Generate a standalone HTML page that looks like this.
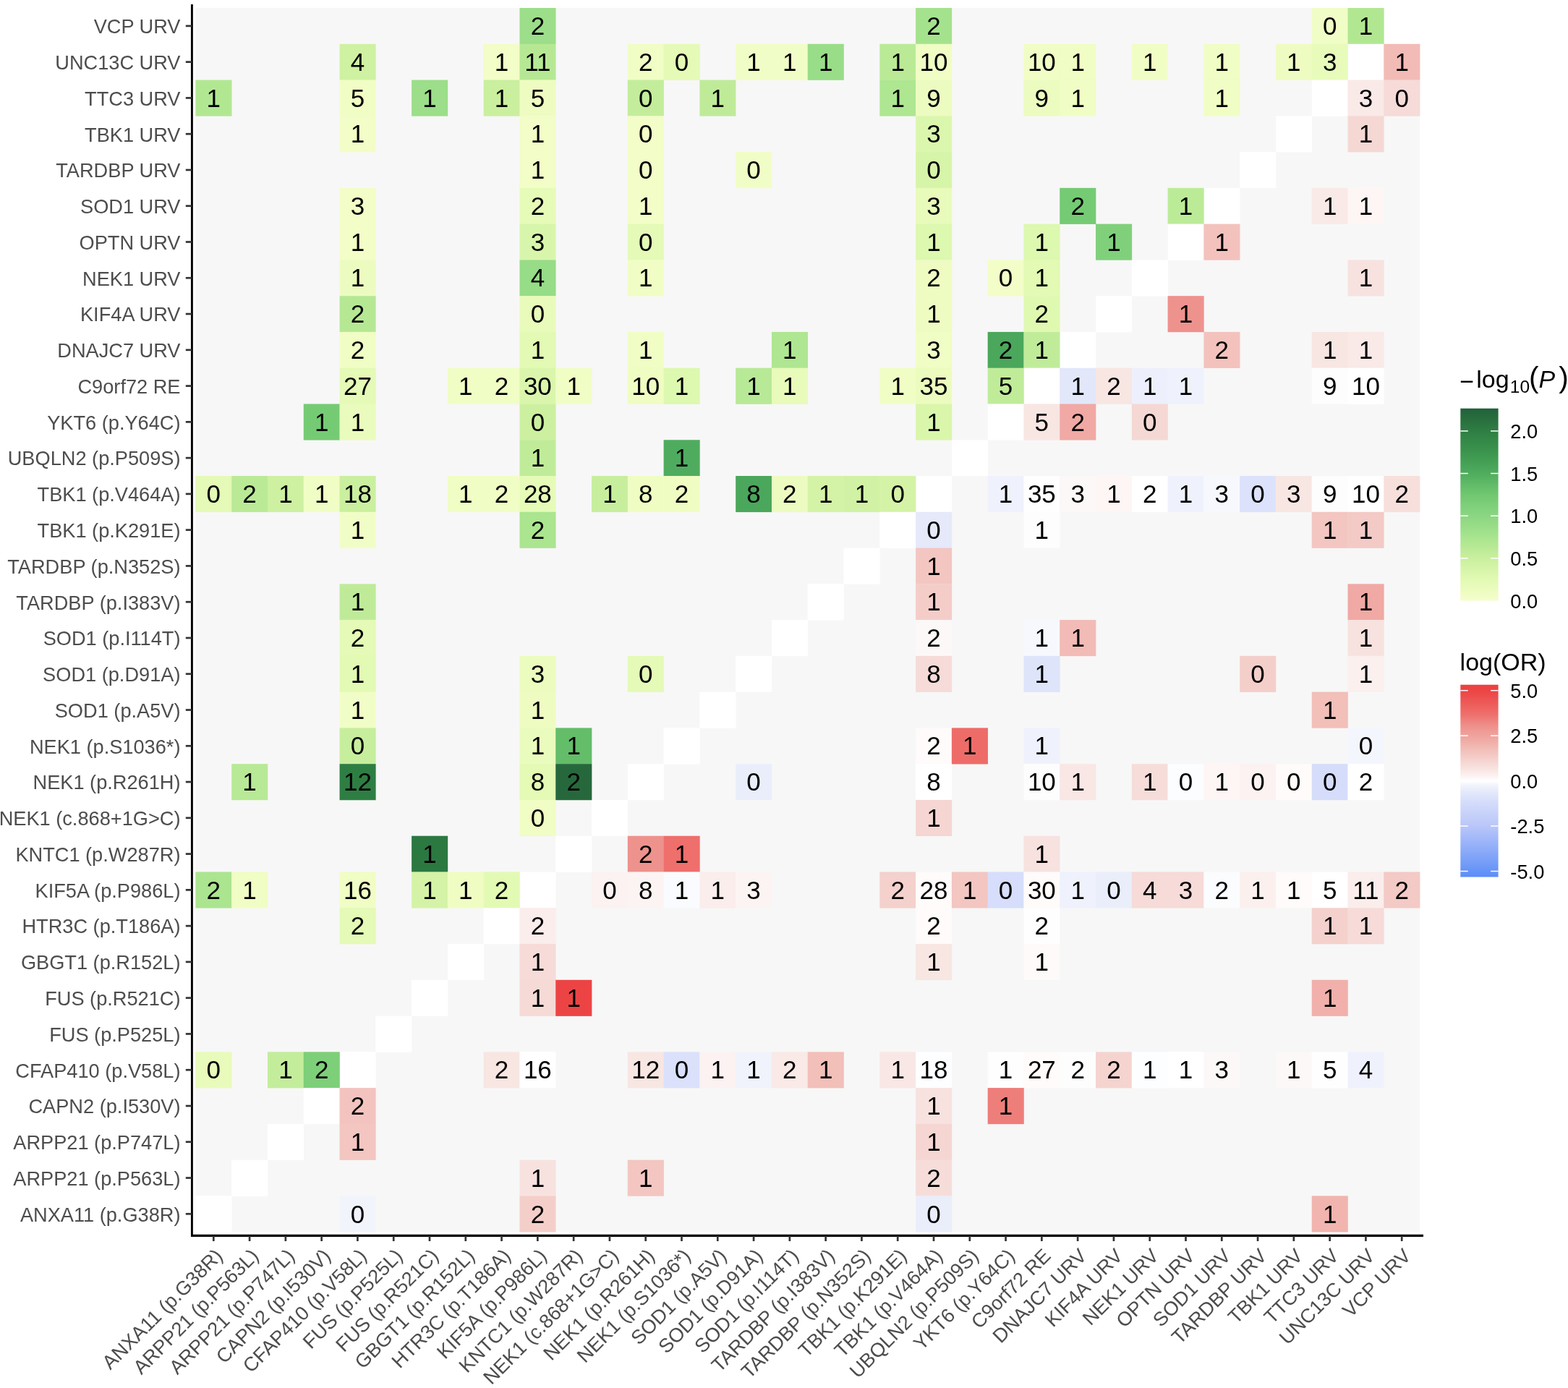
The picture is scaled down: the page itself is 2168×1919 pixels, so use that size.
<!DOCTYPE html>
<html><head><meta charset="utf-8"><title>Heatmap</title>
<style>
html,body{margin:0;padding:0;background:#fff;}
svg{display:block;}
text{font-family:"Liberation Sans",Arial,sans-serif;}
.n{font-size:35.00px;fill:#000;text-anchor:middle;}
.yl{font-size:27.20px;fill:#4D4D4D;text-anchor:end;}
.xl{font-size:27.20px;fill:#4D4D4D;text-anchor:end;}
.lg{font-size:27.3px;fill:#000;}
</style></head><body>
<svg width="2168" height="1919" viewBox="0 0 2168 1919">
<rect x="0" y="0" width="2168" height="1919" fill="#fff"/>
<rect x="270.40" y="11.00" width="1692.69" height="1692.18" fill="#F7F7F7"/>
<rect x="1913.30" y="11.00" width="50.08" height="50.07" fill="#FFFFFF"/>
<rect x="718.46" y="11.00" width="50.08" height="50.07" fill="#9CDE89"/>
<rect x="1266.10" y="11.00" width="50.08" height="50.07" fill="#A5E28D"/>
<rect x="1813.73" y="11.00" width="50.08" height="50.07" fill="#F1FDC6"/>
<rect x="1863.52" y="11.00" width="50.08" height="50.07" fill="#B2E792"/>
<rect x="1863.52" y="60.77" width="50.08" height="50.07" fill="#FFFFFF"/>
<rect x="469.54" y="60.77" width="50.08" height="50.07" fill="#CFF1A2"/>
<rect x="668.68" y="60.77" width="50.08" height="50.07" fill="#F2FDC7"/>
<rect x="718.46" y="60.77" width="50.08" height="50.07" fill="#B6E894"/>
<rect x="867.82" y="60.77" width="50.08" height="50.07" fill="#F0FDC4"/>
<rect x="917.60" y="60.77" width="50.08" height="50.07" fill="#E4FAB6"/>
<rect x="1017.17" y="60.77" width="50.08" height="50.07" fill="#F1FDC6"/>
<rect x="1066.96" y="60.77" width="50.08" height="50.07" fill="#F1FDC6"/>
<rect x="1116.74" y="60.77" width="50.08" height="50.07" fill="#99DD88"/>
<rect x="1216.32" y="60.77" width="50.08" height="50.07" fill="#BAEA96"/>
<rect x="1266.10" y="60.77" width="50.08" height="50.07" fill="#F0FDC5"/>
<rect x="1415.45" y="60.77" width="50.08" height="50.07" fill="#F0FDC5"/>
<rect x="1465.24" y="60.77" width="50.08" height="50.07" fill="#F0FDC5"/>
<rect x="1564.81" y="60.77" width="50.08" height="50.07" fill="#F0FDC5"/>
<rect x="1664.38" y="60.77" width="50.08" height="50.07" fill="#F0FDC5"/>
<rect x="1763.95" y="60.77" width="50.08" height="50.07" fill="#EEFCC2"/>
<rect x="1813.73" y="60.77" width="50.08" height="50.07" fill="#E8FBBB"/>
<rect x="1913.30" y="60.77" width="50.08" height="50.07" fill="#F2BBB6"/>
<rect x="1813.73" y="110.54" width="50.08" height="50.07" fill="#FFFFFF"/>
<rect x="270.40" y="110.54" width="50.08" height="50.07" fill="#B2E792"/>
<rect x="469.54" y="110.54" width="50.08" height="50.07" fill="#F0FDC4"/>
<rect x="569.11" y="110.54" width="50.08" height="50.07" fill="#9CDE89"/>
<rect x="668.68" y="110.54" width="50.08" height="50.07" fill="#CAEF9E"/>
<rect x="718.46" y="110.54" width="50.08" height="50.07" fill="#EEFCC2"/>
<rect x="867.82" y="110.54" width="50.08" height="50.07" fill="#C3ED9B"/>
<rect x="967.39" y="110.54" width="50.08" height="50.07" fill="#BFEB99"/>
<rect x="1216.32" y="110.54" width="50.08" height="50.07" fill="#AFE691"/>
<rect x="1266.10" y="110.54" width="50.08" height="50.07" fill="#ECFCC0"/>
<rect x="1415.45" y="110.54" width="50.08" height="50.07" fill="#ECFCC0"/>
<rect x="1465.24" y="110.54" width="50.08" height="50.07" fill="#F0FDC4"/>
<rect x="1664.38" y="110.54" width="50.08" height="50.07" fill="#F0FDC4"/>
<rect x="1863.52" y="110.54" width="50.08" height="50.07" fill="#F9E9E7"/>
<rect x="1913.30" y="110.54" width="50.08" height="50.07" fill="#F6DBD8"/>
<rect x="1763.95" y="160.31" width="50.08" height="50.07" fill="#FFFFFF"/>
<rect x="469.54" y="160.31" width="50.08" height="50.07" fill="#F2FDC7"/>
<rect x="718.46" y="160.31" width="50.08" height="50.07" fill="#F2FDC7"/>
<rect x="867.82" y="160.31" width="50.08" height="50.07" fill="#F2FDC7"/>
<rect x="1266.10" y="160.31" width="50.08" height="50.07" fill="#DBF7AD"/>
<rect x="1863.52" y="160.31" width="50.08" height="50.07" fill="#F5D8D4"/>
<rect x="1714.16" y="210.08" width="50.08" height="50.07" fill="#FFFFFF"/>
<rect x="718.46" y="210.08" width="50.08" height="50.07" fill="#F2FDC7"/>
<rect x="867.82" y="210.08" width="50.08" height="50.07" fill="#F2FDC7"/>
<rect x="1017.17" y="210.08" width="50.08" height="50.07" fill="#F1FDC6"/>
<rect x="1266.10" y="210.08" width="50.08" height="50.07" fill="#D6F5A9"/>
<rect x="1664.38" y="259.85" width="50.08" height="50.07" fill="#FFFFFF"/>
<rect x="469.54" y="259.85" width="50.08" height="50.07" fill="#F2FDC7"/>
<rect x="718.46" y="259.85" width="50.08" height="50.07" fill="#E6FBB8"/>
<rect x="867.82" y="259.85" width="50.08" height="50.07" fill="#F2FDC7"/>
<rect x="1266.10" y="259.85" width="50.08" height="50.07" fill="#E8FBBA"/>
<rect x="1465.24" y="259.85" width="50.08" height="50.07" fill="#75CB74"/>
<rect x="1614.59" y="259.85" width="50.08" height="50.07" fill="#BCEB98"/>
<rect x="1813.73" y="259.85" width="50.08" height="50.07" fill="#F9E9E7"/>
<rect x="1863.52" y="259.85" width="50.08" height="50.07" fill="#FDF6F5"/>
<rect x="1614.59" y="309.62" width="50.08" height="50.07" fill="#FFFFFF"/>
<rect x="469.54" y="309.62" width="50.08" height="50.07" fill="#F2FDC7"/>
<rect x="718.46" y="309.62" width="50.08" height="50.07" fill="#D8F6AB"/>
<rect x="867.82" y="309.62" width="50.08" height="50.07" fill="#E4FAB6"/>
<rect x="1266.10" y="309.62" width="50.08" height="50.07" fill="#DDF8AF"/>
<rect x="1415.45" y="309.62" width="50.08" height="50.07" fill="#DDF8AF"/>
<rect x="1515.03" y="309.62" width="50.08" height="50.07" fill="#80D07B"/>
<rect x="1664.38" y="309.62" width="50.08" height="50.07" fill="#F3C2BD"/>
<rect x="1564.81" y="359.39" width="50.08" height="50.07" fill="#FFFFFF"/>
<rect x="469.54" y="359.39" width="50.08" height="50.07" fill="#ECFCC0"/>
<rect x="718.46" y="359.39" width="50.08" height="50.07" fill="#97DC87"/>
<rect x="867.82" y="359.39" width="50.08" height="50.07" fill="#F0FDC4"/>
<rect x="1266.10" y="359.39" width="50.08" height="50.07" fill="#EEFCC2"/>
<rect x="1365.67" y="359.39" width="50.08" height="50.07" fill="#F3FDC8"/>
<rect x="1415.45" y="359.39" width="50.08" height="50.07" fill="#E2FAB3"/>
<rect x="1863.52" y="359.39" width="50.08" height="50.07" fill="#F7E2DF"/>
<rect x="1515.03" y="409.16" width="50.08" height="50.07" fill="#FFFFFF"/>
<rect x="469.54" y="409.16" width="50.08" height="50.07" fill="#B6E894"/>
<rect x="718.46" y="409.16" width="50.08" height="50.07" fill="#E8FBBA"/>
<rect x="1266.10" y="409.16" width="50.08" height="50.07" fill="#EEFCC2"/>
<rect x="1415.45" y="409.16" width="50.08" height="50.07" fill="#E0F9B1"/>
<rect x="1614.59" y="409.16" width="50.08" height="50.07" fill="#EE928D"/>
<rect x="1465.24" y="458.93" width="50.08" height="50.07" fill="#FFFFFF"/>
<rect x="469.54" y="458.93" width="50.08" height="50.07" fill="#F0FDC4"/>
<rect x="718.46" y="458.93" width="50.08" height="50.07" fill="#E2FAB3"/>
<rect x="867.82" y="458.93" width="50.08" height="50.07" fill="#F0FDC4"/>
<rect x="1066.96" y="458.93" width="50.08" height="50.07" fill="#AFE691"/>
<rect x="1266.10" y="458.93" width="50.08" height="50.07" fill="#F0FDC4"/>
<rect x="1365.67" y="458.93" width="50.08" height="50.07" fill="#4BA75B"/>
<rect x="1415.45" y="458.93" width="50.08" height="50.07" fill="#C0EC9A"/>
<rect x="1664.38" y="458.93" width="50.08" height="50.07" fill="#F3C2BD"/>
<rect x="1813.73" y="458.93" width="50.08" height="50.07" fill="#F8E6E3"/>
<rect x="1863.52" y="458.93" width="50.08" height="50.07" fill="#F9E9E7"/>
<rect x="1415.45" y="508.70" width="50.08" height="50.07" fill="#FFFFFF"/>
<rect x="469.54" y="508.70" width="50.08" height="50.07" fill="#E4FAB6"/>
<rect x="618.89" y="508.70" width="50.08" height="50.07" fill="#F0FDC4"/>
<rect x="668.68" y="508.70" width="50.08" height="50.07" fill="#F0FDC4"/>
<rect x="718.46" y="508.70" width="50.08" height="50.07" fill="#DAF6AC"/>
<rect x="768.25" y="508.70" width="50.08" height="50.07" fill="#F0FDC4"/>
<rect x="867.82" y="508.70" width="50.08" height="50.07" fill="#EFFDC3"/>
<rect x="917.60" y="508.70" width="50.08" height="50.07" fill="#DDF8AF"/>
<rect x="1017.17" y="508.70" width="50.08" height="50.07" fill="#B8E996"/>
<rect x="1066.96" y="508.70" width="50.08" height="50.07" fill="#E8FBBA"/>
<rect x="1216.32" y="508.70" width="50.08" height="50.07" fill="#F0FDC4"/>
<rect x="1266.10" y="508.70" width="50.08" height="50.07" fill="#EBFCBE"/>
<rect x="1365.67" y="508.70" width="50.08" height="50.07" fill="#C0EC9A"/>
<rect x="1465.24" y="508.70" width="50.08" height="50.07" fill="#E2E7FA"/>
<rect x="1515.03" y="508.70" width="50.08" height="50.07" fill="#F8E6E3"/>
<rect x="1564.81" y="508.70" width="50.08" height="50.07" fill="#EDF0FC"/>
<rect x="1614.59" y="508.70" width="50.08" height="50.07" fill="#EFF2FC"/>
<rect x="1813.73" y="508.70" width="50.08" height="50.07" fill="#FEFDFD"/>
<rect x="1863.52" y="508.70" width="50.08" height="50.07" fill="#FFFFFF"/>
<rect x="1365.67" y="558.47" width="50.08" height="50.07" fill="#FFFFFF"/>
<rect x="419.75" y="558.47" width="50.08" height="50.07" fill="#75CB74"/>
<rect x="469.54" y="558.47" width="50.08" height="50.07" fill="#EAFCBD"/>
<rect x="718.46" y="558.47" width="50.08" height="50.07" fill="#CCF0A0"/>
<rect x="1266.10" y="558.47" width="50.08" height="50.07" fill="#D9F6AB"/>
<rect x="1415.45" y="558.47" width="50.08" height="50.07" fill="#F8E6E3"/>
<rect x="1465.24" y="558.47" width="50.08" height="50.07" fill="#F0A9A4"/>
<rect x="1564.81" y="558.47" width="50.08" height="50.07" fill="#F5D8D4"/>
<rect x="1315.88" y="608.24" width="50.08" height="50.07" fill="#FFFFFF"/>
<rect x="718.46" y="608.24" width="50.08" height="50.07" fill="#C0EC9A"/>
<rect x="917.60" y="608.24" width="50.08" height="50.07" fill="#4FAC5E"/>
<rect x="1266.10" y="658.01" width="50.08" height="50.07" fill="#FFFFFF"/>
<rect x="270.40" y="658.01" width="50.08" height="50.07" fill="#E4FAB6"/>
<rect x="320.18" y="658.01" width="50.08" height="50.07" fill="#BAEA96"/>
<rect x="369.97" y="658.01" width="50.08" height="50.07" fill="#CDF0A1"/>
<rect x="419.75" y="658.01" width="50.08" height="50.07" fill="#F0FDC4"/>
<rect x="469.54" y="658.01" width="50.08" height="50.07" fill="#CAEF9E"/>
<rect x="618.89" y="658.01" width="50.08" height="50.07" fill="#F0FDC4"/>
<rect x="668.68" y="658.01" width="50.08" height="50.07" fill="#F0FDC4"/>
<rect x="718.46" y="658.01" width="50.08" height="50.07" fill="#E6FBB8"/>
<rect x="818.03" y="658.01" width="50.08" height="50.07" fill="#C7EE9D"/>
<rect x="867.82" y="658.01" width="50.08" height="50.07" fill="#EFFDC3"/>
<rect x="917.60" y="658.01" width="50.08" height="50.07" fill="#EFFDC3"/>
<rect x="1017.17" y="658.01" width="50.08" height="50.07" fill="#4BA75B"/>
<rect x="1066.96" y="658.01" width="50.08" height="50.07" fill="#ECFCC0"/>
<rect x="1116.74" y="658.01" width="50.08" height="50.07" fill="#D4F3A6"/>
<rect x="1166.53" y="658.01" width="50.08" height="50.07" fill="#D1F2A4"/>
<rect x="1216.32" y="658.01" width="50.08" height="50.07" fill="#D4F3A6"/>
<rect x="1365.67" y="658.01" width="50.08" height="50.07" fill="#EFF2FC"/>
<rect x="1415.45" y="658.01" width="50.08" height="50.07" fill="#FFFEFE"/>
<rect x="1465.24" y="658.01" width="50.08" height="50.07" fill="#FDF8F8"/>
<rect x="1515.03" y="658.01" width="50.08" height="50.07" fill="#FDF6F5"/>
<rect x="1564.81" y="658.01" width="50.08" height="50.07" fill="#FFFFFF"/>
<rect x="1614.59" y="658.01" width="50.08" height="50.07" fill="#EFF2FC"/>
<rect x="1664.38" y="658.01" width="50.08" height="50.07" fill="#F7F8FE"/>
<rect x="1714.16" y="658.01" width="50.08" height="50.07" fill="#DCE2FB"/>
<rect x="1763.95" y="658.01" width="50.08" height="50.07" fill="#F8E6E3"/>
<rect x="1813.73" y="658.01" width="50.08" height="50.07" fill="#FEFDFD"/>
<rect x="1863.52" y="658.01" width="50.08" height="50.07" fill="#FFFFFF"/>
<rect x="1913.30" y="658.01" width="50.08" height="50.07" fill="#F7DFDC"/>
<rect x="1216.32" y="707.78" width="50.08" height="50.07" fill="#FFFFFF"/>
<rect x="469.54" y="707.78" width="50.08" height="50.07" fill="#F1FDC6"/>
<rect x="718.46" y="707.78" width="50.08" height="50.07" fill="#ABE58F"/>
<rect x="1266.10" y="707.78" width="50.08" height="50.07" fill="#E5E9FA"/>
<rect x="1415.45" y="707.78" width="50.08" height="50.07" fill="#FEFDFD"/>
<rect x="1813.73" y="707.78" width="50.08" height="50.07" fill="#F3C6C1"/>
<rect x="1863.52" y="707.78" width="50.08" height="50.07" fill="#F3CAC5"/>
<rect x="1166.53" y="757.55" width="50.08" height="50.07" fill="#FFFFFF"/>
<rect x="1266.10" y="757.55" width="50.08" height="50.07" fill="#F3C6C1"/>
<rect x="1116.74" y="807.32" width="50.08" height="50.07" fill="#FFFFFF"/>
<rect x="469.54" y="807.32" width="50.08" height="50.07" fill="#BFEB99"/>
<rect x="1266.10" y="807.32" width="50.08" height="50.07" fill="#F4CDC9"/>
<rect x="1863.52" y="807.32" width="50.08" height="50.07" fill="#F0A9A4"/>
<rect x="1066.96" y="857.09" width="50.08" height="50.07" fill="#FFFFFF"/>
<rect x="469.54" y="857.09" width="50.08" height="50.07" fill="#E4FAB6"/>
<rect x="1266.10" y="857.09" width="50.08" height="50.07" fill="#FDF8F8"/>
<rect x="1415.45" y="857.09" width="50.08" height="50.07" fill="#F7F8FE"/>
<rect x="1465.24" y="857.09" width="50.08" height="50.07" fill="#F2BBB6"/>
<rect x="1863.52" y="857.09" width="50.08" height="50.07" fill="#F7E2DF"/>
<rect x="1017.17" y="906.86" width="50.08" height="50.07" fill="#FFFFFF"/>
<rect x="469.54" y="906.86" width="50.08" height="50.07" fill="#E2FAB3"/>
<rect x="718.46" y="906.86" width="50.08" height="50.07" fill="#EBFCBE"/>
<rect x="867.82" y="906.86" width="50.08" height="50.07" fill="#E4FAB6"/>
<rect x="1266.10" y="906.86" width="50.08" height="50.07" fill="#F6DBD8"/>
<rect x="1415.45" y="906.86" width="50.08" height="50.07" fill="#DEE4FA"/>
<rect x="1714.16" y="906.86" width="50.08" height="50.07" fill="#F4CFCA"/>
<rect x="1863.52" y="906.86" width="50.08" height="50.07" fill="#FBF0EE"/>
<rect x="967.39" y="956.63" width="50.08" height="50.07" fill="#FFFFFF"/>
<rect x="469.54" y="956.63" width="50.08" height="50.07" fill="#F1FDC6"/>
<rect x="718.46" y="956.63" width="50.08" height="50.07" fill="#EEFCC2"/>
<rect x="1813.73" y="956.63" width="50.08" height="50.07" fill="#F2BFB9"/>
<rect x="917.60" y="1006.40" width="50.08" height="50.07" fill="#FFFFFF"/>
<rect x="469.54" y="1006.40" width="50.08" height="50.07" fill="#C7EE9D"/>
<rect x="718.46" y="1006.40" width="50.08" height="50.07" fill="#EAFCBD"/>
<rect x="768.25" y="1006.40" width="50.08" height="50.07" fill="#63BD69"/>
<rect x="1266.10" y="1006.40" width="50.08" height="50.07" fill="#FEFBFA"/>
<rect x="1315.88" y="1006.40" width="50.08" height="50.07" fill="#EE6C68"/>
<rect x="1415.45" y="1006.40" width="50.08" height="50.07" fill="#EFF2FC"/>
<rect x="1863.52" y="1006.40" width="50.08" height="50.07" fill="#F4F6FD"/>
<rect x="867.82" y="1056.17" width="50.08" height="50.07" fill="#FFFFFF"/>
<rect x="320.18" y="1056.17" width="50.08" height="50.07" fill="#B8E996"/>
<rect x="469.54" y="1056.17" width="50.08" height="50.07" fill="#2E7E43"/>
<rect x="718.46" y="1056.17" width="50.08" height="50.07" fill="#E4FAB5"/>
<rect x="768.25" y="1056.17" width="50.08" height="50.07" fill="#26683C"/>
<rect x="1017.17" y="1056.17" width="50.08" height="50.07" fill="#EAEEFB"/>
<rect x="1266.10" y="1056.17" width="50.08" height="50.07" fill="#FFFFFF"/>
<rect x="1415.45" y="1056.17" width="50.08" height="50.07" fill="#FEFDFD"/>
<rect x="1465.24" y="1056.17" width="50.08" height="50.07" fill="#F9E7E5"/>
<rect x="1564.81" y="1056.17" width="50.08" height="50.07" fill="#F6DDDA"/>
<rect x="1614.59" y="1056.17" width="50.08" height="50.07" fill="#FCFDFE"/>
<rect x="1664.38" y="1056.17" width="50.08" height="50.07" fill="#FDF6F5"/>
<rect x="1714.16" y="1056.17" width="50.08" height="50.07" fill="#FBF2F1"/>
<rect x="1763.95" y="1056.17" width="50.08" height="50.07" fill="#FEFBFA"/>
<rect x="1813.73" y="1056.17" width="50.08" height="50.07" fill="#D5DDFB"/>
<rect x="1863.52" y="1056.17" width="50.08" height="50.07" fill="#FFFFFF"/>
<rect x="818.03" y="1105.94" width="50.08" height="50.07" fill="#FFFFFF"/>
<rect x="718.46" y="1105.94" width="50.08" height="50.07" fill="#F0FDC4"/>
<rect x="1266.10" y="1105.94" width="50.08" height="50.07" fill="#F5D6D2"/>
<rect x="768.25" y="1155.71" width="50.08" height="50.07" fill="#FFFFFF"/>
<rect x="569.11" y="1155.71" width="50.08" height="50.07" fill="#2C7841"/>
<rect x="867.82" y="1155.71" width="50.08" height="50.07" fill="#EE928D"/>
<rect x="917.60" y="1155.71" width="50.08" height="50.07" fill="#EE6F6B"/>
<rect x="1415.45" y="1155.71" width="50.08" height="50.07" fill="#F7E2DF"/>
<rect x="718.46" y="1205.48" width="50.08" height="50.07" fill="#FFFFFF"/>
<rect x="270.40" y="1205.48" width="50.08" height="50.07" fill="#ABE58F"/>
<rect x="320.18" y="1205.48" width="50.08" height="50.07" fill="#F0FDC4"/>
<rect x="469.54" y="1205.48" width="50.08" height="50.07" fill="#F0FDC4"/>
<rect x="569.11" y="1205.48" width="50.08" height="50.07" fill="#D4F3A6"/>
<rect x="618.89" y="1205.48" width="50.08" height="50.07" fill="#EFFDC3"/>
<rect x="668.68" y="1205.48" width="50.08" height="50.07" fill="#E2FAB3"/>
<rect x="818.03" y="1205.48" width="50.08" height="50.07" fill="#FBF2F1"/>
<rect x="867.82" y="1205.48" width="50.08" height="50.07" fill="#FCF4F3"/>
<rect x="917.60" y="1205.48" width="50.08" height="50.07" fill="#FAFBFE"/>
<rect x="967.39" y="1205.48" width="50.08" height="50.07" fill="#FAEDEC"/>
<rect x="1017.17" y="1205.48" width="50.08" height="50.07" fill="#FCF4F3"/>
<rect x="1216.32" y="1205.48" width="50.08" height="50.07" fill="#F4D1CC"/>
<rect x="1266.10" y="1205.48" width="50.08" height="50.07" fill="#FEFBFA"/>
<rect x="1315.88" y="1205.48" width="50.08" height="50.07" fill="#F3C6C1"/>
<rect x="1365.67" y="1205.48" width="50.08" height="50.07" fill="#D6DEFB"/>
<rect x="1415.45" y="1205.48" width="50.08" height="50.07" fill="#FEFBFA"/>
<rect x="1465.24" y="1205.48" width="50.08" height="50.07" fill="#EFF2FC"/>
<rect x="1515.03" y="1205.48" width="50.08" height="50.07" fill="#EAEEFB"/>
<rect x="1564.81" y="1205.48" width="50.08" height="50.07" fill="#F6DBD8"/>
<rect x="1614.59" y="1205.48" width="50.08" height="50.07" fill="#F6DBD8"/>
<rect x="1664.38" y="1205.48" width="50.08" height="50.07" fill="#FBFCFE"/>
<rect x="1714.16" y="1205.48" width="50.08" height="50.07" fill="#FBF0EE"/>
<rect x="1763.95" y="1205.48" width="50.08" height="50.07" fill="#FEFBFA"/>
<rect x="1813.73" y="1205.48" width="50.08" height="50.07" fill="#FFFFFF"/>
<rect x="1863.52" y="1205.48" width="50.08" height="50.07" fill="#FAEDEC"/>
<rect x="1913.30" y="1205.48" width="50.08" height="50.07" fill="#F3CAC5"/>
<rect x="668.68" y="1255.25" width="50.08" height="50.07" fill="#FFFFFF"/>
<rect x="469.54" y="1255.25" width="50.08" height="50.07" fill="#E4FAB6"/>
<rect x="718.46" y="1255.25" width="50.08" height="50.07" fill="#FAEDEC"/>
<rect x="1266.10" y="1255.25" width="50.08" height="50.07" fill="#FEFBFA"/>
<rect x="1415.45" y="1255.25" width="50.08" height="50.07" fill="#FFFEFE"/>
<rect x="1813.73" y="1255.25" width="50.08" height="50.07" fill="#F4D1CC"/>
<rect x="1863.52" y="1255.25" width="50.08" height="50.07" fill="#F6DBD8"/>
<rect x="618.89" y="1305.02" width="50.08" height="50.07" fill="#FFFFFF"/>
<rect x="718.46" y="1305.02" width="50.08" height="50.07" fill="#F6DBD8"/>
<rect x="1266.10" y="1305.02" width="50.08" height="50.07" fill="#F8E6E3"/>
<rect x="1415.45" y="1305.02" width="50.08" height="50.07" fill="#FEFAF9"/>
<rect x="569.11" y="1354.79" width="50.08" height="50.07" fill="#FFFFFF"/>
<rect x="718.46" y="1354.79" width="50.08" height="50.07" fill="#F5DAD6"/>
<rect x="768.25" y="1354.79" width="50.08" height="50.07" fill="#EC4444"/>
<rect x="1813.73" y="1354.79" width="50.08" height="50.07" fill="#F1B0AB"/>
<rect x="519.32" y="1404.56" width="50.08" height="50.07" fill="#FFFFFF"/>
<rect x="469.54" y="1454.33" width="50.08" height="50.07" fill="#FFFFFF"/>
<rect x="270.40" y="1454.33" width="50.08" height="50.07" fill="#E8FBBA"/>
<rect x="369.97" y="1454.33" width="50.08" height="50.07" fill="#C3ED9B"/>
<rect x="419.75" y="1454.33" width="50.08" height="50.07" fill="#7ECF79"/>
<rect x="668.68" y="1454.33" width="50.08" height="50.07" fill="#F8E6E3"/>
<rect x="718.46" y="1454.33" width="50.08" height="50.07" fill="#FFFFFF"/>
<rect x="867.82" y="1454.33" width="50.08" height="50.07" fill="#F8E6E3"/>
<rect x="917.60" y="1454.33" width="50.08" height="50.07" fill="#DBE1FB"/>
<rect x="967.39" y="1454.33" width="50.08" height="50.07" fill="#FBF2F1"/>
<rect x="1017.17" y="1454.33" width="50.08" height="50.07" fill="#F0F3FC"/>
<rect x="1066.96" y="1454.33" width="50.08" height="50.07" fill="#F9E9E7"/>
<rect x="1116.74" y="1454.33" width="50.08" height="50.07" fill="#F2BFB9"/>
<rect x="1216.32" y="1454.33" width="50.08" height="50.07" fill="#F9E7E5"/>
<rect x="1266.10" y="1454.33" width="50.08" height="50.07" fill="#FDFEFF"/>
<rect x="1365.67" y="1454.33" width="50.08" height="50.07" fill="#FFFEFE"/>
<rect x="1415.45" y="1454.33" width="50.08" height="50.07" fill="#FEFBFA"/>
<rect x="1465.24" y="1454.33" width="50.08" height="50.07" fill="#FEFDFD"/>
<rect x="1515.03" y="1454.33" width="50.08" height="50.07" fill="#F5D4D0"/>
<rect x="1564.81" y="1454.33" width="50.08" height="50.07" fill="#FDFEFF"/>
<rect x="1614.59" y="1454.33" width="50.08" height="50.07" fill="#FFFFFF"/>
<rect x="1664.38" y="1454.33" width="50.08" height="50.07" fill="#FDF8F8"/>
<rect x="1763.95" y="1454.33" width="50.08" height="50.07" fill="#FDF8F8"/>
<rect x="1813.73" y="1454.33" width="50.08" height="50.07" fill="#FEFEFF"/>
<rect x="1863.52" y="1454.33" width="50.08" height="50.07" fill="#EFF2FC"/>
<rect x="419.75" y="1504.10" width="50.08" height="50.07" fill="#FFFFFF"/>
<rect x="469.54" y="1504.10" width="50.08" height="50.07" fill="#F3C4BF"/>
<rect x="1266.10" y="1504.10" width="50.08" height="50.07" fill="#F7E2DF"/>
<rect x="1365.67" y="1504.10" width="50.08" height="50.07" fill="#EE7E7A"/>
<rect x="369.97" y="1553.87" width="50.08" height="50.07" fill="#FFFFFF"/>
<rect x="469.54" y="1553.87" width="50.08" height="50.07" fill="#F3C6C1"/>
<rect x="1266.10" y="1553.87" width="50.08" height="50.07" fill="#F5D6D2"/>
<rect x="320.18" y="1603.64" width="50.08" height="50.07" fill="#FFFFFF"/>
<rect x="718.46" y="1603.64" width="50.08" height="50.07" fill="#F7E2DF"/>
<rect x="867.82" y="1603.64" width="50.08" height="50.07" fill="#F3C6C1"/>
<rect x="1266.10" y="1603.64" width="50.08" height="50.07" fill="#F6DDDA"/>
<rect x="270.40" y="1653.41" width="50.08" height="50.07" fill="#FFFFFF"/>
<rect x="469.54" y="1653.41" width="50.08" height="50.07" fill="#F2F4FC"/>
<rect x="718.46" y="1653.41" width="50.08" height="50.07" fill="#F4CFCA"/>
<rect x="1266.10" y="1653.41" width="50.08" height="50.07" fill="#EAEEFB"/>
<rect x="1813.73" y="1653.41" width="50.08" height="50.07" fill="#F1B4AE"/>
<text class="n" x="743.36" y="48.09">2</text>
<text class="n" x="1290.99" y="48.09">2</text>
<text class="n" x="1838.63" y="48.09">0</text>
<text class="n" x="1888.41" y="48.09">1</text>
<text class="n" x="494.43" y="97.86">4</text>
<text class="n" x="693.57" y="97.86">1</text>
<text class="n" x="743.36" y="97.86">11</text>
<text class="n" x="892.71" y="97.86">2</text>
<text class="n" x="942.50" y="97.86">0</text>
<text class="n" x="1042.07" y="97.86">1</text>
<text class="n" x="1091.85" y="97.86">1</text>
<text class="n" x="1141.64" y="97.86">1</text>
<text class="n" x="1241.21" y="97.86">1</text>
<text class="n" x="1290.99" y="97.86">10</text>
<text class="n" x="1440.35" y="97.86">10</text>
<text class="n" x="1490.13" y="97.86">1</text>
<text class="n" x="1589.70" y="97.86">1</text>
<text class="n" x="1689.27" y="97.86">1</text>
<text class="n" x="1788.84" y="97.86">1</text>
<text class="n" x="1838.63" y="97.86">3</text>
<text class="n" x="1938.20" y="97.86">1</text>
<text class="n" x="295.29" y="147.62">1</text>
<text class="n" x="494.43" y="147.62">5</text>
<text class="n" x="594.00" y="147.62">1</text>
<text class="n" x="693.57" y="147.62">1</text>
<text class="n" x="743.36" y="147.62">5</text>
<text class="n" x="892.71" y="147.62">0</text>
<text class="n" x="992.28" y="147.62">1</text>
<text class="n" x="1241.21" y="147.62">1</text>
<text class="n" x="1290.99" y="147.62">9</text>
<text class="n" x="1440.35" y="147.62">9</text>
<text class="n" x="1490.13" y="147.62">1</text>
<text class="n" x="1689.27" y="147.62">1</text>
<text class="n" x="1888.41" y="147.62">3</text>
<text class="n" x="1938.20" y="147.62">0</text>
<text class="n" x="494.43" y="197.39">1</text>
<text class="n" x="743.36" y="197.39">1</text>
<text class="n" x="892.71" y="197.39">0</text>
<text class="n" x="1290.99" y="197.39">3</text>
<text class="n" x="1888.41" y="197.39">1</text>
<text class="n" x="743.36" y="247.16">1</text>
<text class="n" x="892.71" y="247.16">0</text>
<text class="n" x="1042.07" y="247.16">0</text>
<text class="n" x="1290.99" y="247.16">0</text>
<text class="n" x="494.43" y="296.94">3</text>
<text class="n" x="743.36" y="296.94">2</text>
<text class="n" x="892.71" y="296.94">1</text>
<text class="n" x="1290.99" y="296.94">3</text>
<text class="n" x="1490.13" y="296.94">2</text>
<text class="n" x="1639.49" y="296.94">1</text>
<text class="n" x="1838.63" y="296.94">1</text>
<text class="n" x="1888.41" y="296.94">1</text>
<text class="n" x="494.43" y="346.70">1</text>
<text class="n" x="743.36" y="346.70">3</text>
<text class="n" x="892.71" y="346.70">0</text>
<text class="n" x="1290.99" y="346.70">1</text>
<text class="n" x="1440.35" y="346.70">1</text>
<text class="n" x="1539.92" y="346.70">1</text>
<text class="n" x="1689.27" y="346.70">1</text>
<text class="n" x="494.43" y="396.48">1</text>
<text class="n" x="743.36" y="396.48">4</text>
<text class="n" x="892.71" y="396.48">1</text>
<text class="n" x="1290.99" y="396.48">2</text>
<text class="n" x="1390.56" y="396.48">0</text>
<text class="n" x="1440.35" y="396.48">1</text>
<text class="n" x="1888.41" y="396.48">1</text>
<text class="n" x="494.43" y="446.25">2</text>
<text class="n" x="743.36" y="446.25">0</text>
<text class="n" x="1290.99" y="446.25">1</text>
<text class="n" x="1440.35" y="446.25">2</text>
<text class="n" x="1639.49" y="446.25">1</text>
<text class="n" x="494.43" y="496.01">2</text>
<text class="n" x="743.36" y="496.01">1</text>
<text class="n" x="892.71" y="496.01">1</text>
<text class="n" x="1091.85" y="496.01">1</text>
<text class="n" x="1290.99" y="496.01">3</text>
<text class="n" x="1390.56" y="496.01">2</text>
<text class="n" x="1440.35" y="496.01">1</text>
<text class="n" x="1689.27" y="496.01">2</text>
<text class="n" x="1838.63" y="496.01">1</text>
<text class="n" x="1888.41" y="496.01">1</text>
<text class="n" x="494.43" y="545.79">27</text>
<text class="n" x="643.79" y="545.79">1</text>
<text class="n" x="693.57" y="545.79">2</text>
<text class="n" x="743.36" y="545.79">30</text>
<text class="n" x="793.14" y="545.79">1</text>
<text class="n" x="892.71" y="545.79">10</text>
<text class="n" x="942.50" y="545.79">1</text>
<text class="n" x="1042.07" y="545.79">1</text>
<text class="n" x="1091.85" y="545.79">1</text>
<text class="n" x="1241.21" y="545.79">1</text>
<text class="n" x="1290.99" y="545.79">35</text>
<text class="n" x="1390.56" y="545.79">5</text>
<text class="n" x="1490.13" y="545.79">1</text>
<text class="n" x="1539.92" y="545.79">2</text>
<text class="n" x="1589.70" y="545.79">1</text>
<text class="n" x="1639.49" y="545.79">1</text>
<text class="n" x="1838.63" y="545.79">9</text>
<text class="n" x="1888.41" y="545.79">10</text>
<text class="n" x="444.65" y="595.56">1</text>
<text class="n" x="494.43" y="595.56">1</text>
<text class="n" x="743.36" y="595.56">0</text>
<text class="n" x="1290.99" y="595.56">1</text>
<text class="n" x="1440.35" y="595.56">5</text>
<text class="n" x="1490.13" y="595.56">2</text>
<text class="n" x="1589.70" y="595.56">0</text>
<text class="n" x="743.36" y="645.33">1</text>
<text class="n" x="942.50" y="645.33">1</text>
<text class="n" x="295.29" y="695.10">0</text>
<text class="n" x="345.08" y="695.10">2</text>
<text class="n" x="394.86" y="695.10">1</text>
<text class="n" x="444.65" y="695.10">1</text>
<text class="n" x="494.43" y="695.10">18</text>
<text class="n" x="643.79" y="695.10">1</text>
<text class="n" x="693.57" y="695.10">2</text>
<text class="n" x="743.36" y="695.10">28</text>
<text class="n" x="842.93" y="695.10">1</text>
<text class="n" x="892.71" y="695.10">8</text>
<text class="n" x="942.50" y="695.10">2</text>
<text class="n" x="1042.07" y="695.10">8</text>
<text class="n" x="1091.85" y="695.10">2</text>
<text class="n" x="1141.64" y="695.10">1</text>
<text class="n" x="1191.42" y="695.10">1</text>
<text class="n" x="1241.21" y="695.10">0</text>
<text class="n" x="1390.56" y="695.10">1</text>
<text class="n" x="1440.35" y="695.10">35</text>
<text class="n" x="1490.13" y="695.10">3</text>
<text class="n" x="1539.92" y="695.10">1</text>
<text class="n" x="1589.70" y="695.10">2</text>
<text class="n" x="1639.49" y="695.10">1</text>
<text class="n" x="1689.27" y="695.10">3</text>
<text class="n" x="1739.06" y="695.10">0</text>
<text class="n" x="1788.84" y="695.10">3</text>
<text class="n" x="1838.63" y="695.10">9</text>
<text class="n" x="1888.41" y="695.10">10</text>
<text class="n" x="1938.20" y="695.10">2</text>
<text class="n" x="494.43" y="744.87">1</text>
<text class="n" x="743.36" y="744.87">2</text>
<text class="n" x="1290.99" y="744.87">0</text>
<text class="n" x="1440.35" y="744.87">1</text>
<text class="n" x="1838.63" y="744.87">1</text>
<text class="n" x="1888.41" y="744.87">1</text>
<text class="n" x="1290.99" y="794.64">1</text>
<text class="n" x="494.43" y="844.41">1</text>
<text class="n" x="1290.99" y="844.41">1</text>
<text class="n" x="1888.41" y="844.41">1</text>
<text class="n" x="494.43" y="894.18">2</text>
<text class="n" x="1290.99" y="894.18">2</text>
<text class="n" x="1440.35" y="894.18">1</text>
<text class="n" x="1490.13" y="894.18">1</text>
<text class="n" x="1888.41" y="894.18">1</text>
<text class="n" x="494.43" y="943.95">1</text>
<text class="n" x="743.36" y="943.95">3</text>
<text class="n" x="892.71" y="943.95">0</text>
<text class="n" x="1290.99" y="943.95">8</text>
<text class="n" x="1440.35" y="943.95">1</text>
<text class="n" x="1739.06" y="943.95">0</text>
<text class="n" x="1888.41" y="943.95">1</text>
<text class="n" x="494.43" y="993.72">1</text>
<text class="n" x="743.36" y="993.72">1</text>
<text class="n" x="1838.63" y="993.72">1</text>
<text class="n" x="494.43" y="1043.49">0</text>
<text class="n" x="743.36" y="1043.49">1</text>
<text class="n" x="793.14" y="1043.49">1</text>
<text class="n" x="1290.99" y="1043.49">2</text>
<text class="n" x="1340.78" y="1043.49">1</text>
<text class="n" x="1440.35" y="1043.49">1</text>
<text class="n" x="1888.41" y="1043.49">0</text>
<text class="n" x="345.08" y="1093.26">1</text>
<text class="n" x="494.43" y="1093.26">12</text>
<text class="n" x="743.36" y="1093.26">8</text>
<text class="n" x="793.14" y="1093.26">2</text>
<text class="n" x="1042.07" y="1093.26">0</text>
<text class="n" x="1290.99" y="1093.26">8</text>
<text class="n" x="1440.35" y="1093.26">10</text>
<text class="n" x="1490.13" y="1093.26">1</text>
<text class="n" x="1589.70" y="1093.26">1</text>
<text class="n" x="1639.49" y="1093.26">0</text>
<text class="n" x="1689.27" y="1093.26">1</text>
<text class="n" x="1739.06" y="1093.26">0</text>
<text class="n" x="1788.84" y="1093.26">0</text>
<text class="n" x="1838.63" y="1093.26">0</text>
<text class="n" x="1888.41" y="1093.26">2</text>
<text class="n" x="743.36" y="1143.03">0</text>
<text class="n" x="1290.99" y="1143.03">1</text>
<text class="n" x="594.00" y="1192.80">1</text>
<text class="n" x="892.71" y="1192.80">2</text>
<text class="n" x="942.50" y="1192.80">1</text>
<text class="n" x="1440.35" y="1192.80">1</text>
<text class="n" x="295.29" y="1242.57">2</text>
<text class="n" x="345.08" y="1242.57">1</text>
<text class="n" x="494.43" y="1242.57">16</text>
<text class="n" x="594.00" y="1242.57">1</text>
<text class="n" x="643.79" y="1242.57">1</text>
<text class="n" x="693.57" y="1242.57">2</text>
<text class="n" x="842.93" y="1242.57">0</text>
<text class="n" x="892.71" y="1242.57">8</text>
<text class="n" x="942.50" y="1242.57">1</text>
<text class="n" x="992.28" y="1242.57">1</text>
<text class="n" x="1042.07" y="1242.57">3</text>
<text class="n" x="1241.21" y="1242.57">2</text>
<text class="n" x="1290.99" y="1242.57">28</text>
<text class="n" x="1340.78" y="1242.57">1</text>
<text class="n" x="1390.56" y="1242.57">0</text>
<text class="n" x="1440.35" y="1242.57">30</text>
<text class="n" x="1490.13" y="1242.57">1</text>
<text class="n" x="1539.92" y="1242.57">0</text>
<text class="n" x="1589.70" y="1242.57">4</text>
<text class="n" x="1639.49" y="1242.57">3</text>
<text class="n" x="1689.27" y="1242.57">2</text>
<text class="n" x="1739.06" y="1242.57">1</text>
<text class="n" x="1788.84" y="1242.57">1</text>
<text class="n" x="1838.63" y="1242.57">5</text>
<text class="n" x="1888.41" y="1242.57">11</text>
<text class="n" x="1938.20" y="1242.57">2</text>
<text class="n" x="494.43" y="1292.34">2</text>
<text class="n" x="743.36" y="1292.34">2</text>
<text class="n" x="1290.99" y="1292.34">2</text>
<text class="n" x="1440.35" y="1292.34">2</text>
<text class="n" x="1838.63" y="1292.34">1</text>
<text class="n" x="1888.41" y="1292.34">1</text>
<text class="n" x="743.36" y="1342.11">1</text>
<text class="n" x="1290.99" y="1342.11">1</text>
<text class="n" x="1440.35" y="1342.11">1</text>
<text class="n" x="743.36" y="1391.88">1</text>
<text class="n" x="793.14" y="1391.88">1</text>
<text class="n" x="1838.63" y="1391.88">1</text>
<text class="n" x="295.29" y="1491.42">0</text>
<text class="n" x="394.86" y="1491.42">1</text>
<text class="n" x="444.65" y="1491.42">2</text>
<text class="n" x="693.57" y="1491.42">2</text>
<text class="n" x="743.36" y="1491.42">16</text>
<text class="n" x="892.71" y="1491.42">12</text>
<text class="n" x="942.50" y="1491.42">0</text>
<text class="n" x="992.28" y="1491.42">1</text>
<text class="n" x="1042.07" y="1491.42">1</text>
<text class="n" x="1091.85" y="1491.42">2</text>
<text class="n" x="1141.64" y="1491.42">1</text>
<text class="n" x="1241.21" y="1491.42">1</text>
<text class="n" x="1290.99" y="1491.42">18</text>
<text class="n" x="1390.56" y="1491.42">1</text>
<text class="n" x="1440.35" y="1491.42">27</text>
<text class="n" x="1490.13" y="1491.42">2</text>
<text class="n" x="1539.92" y="1491.42">2</text>
<text class="n" x="1589.70" y="1491.42">1</text>
<text class="n" x="1639.49" y="1491.42">1</text>
<text class="n" x="1689.27" y="1491.42">3</text>
<text class="n" x="1788.84" y="1491.42">1</text>
<text class="n" x="1838.63" y="1491.42">5</text>
<text class="n" x="1888.41" y="1491.42">4</text>
<text class="n" x="494.43" y="1541.19">2</text>
<text class="n" x="1290.99" y="1541.19">1</text>
<text class="n" x="1390.56" y="1541.19">1</text>
<text class="n" x="494.43" y="1590.96">1</text>
<text class="n" x="1290.99" y="1590.96">1</text>
<text class="n" x="743.36" y="1640.73">1</text>
<text class="n" x="892.71" y="1640.73">1</text>
<text class="n" x="1290.99" y="1640.73">2</text>
<text class="n" x="494.43" y="1690.50">0</text>
<text class="n" x="743.36" y="1690.50">2</text>
<text class="n" x="1290.99" y="1690.50">0</text>
<text class="n" x="1838.63" y="1690.50">1</text>
<line x1="265.4" y1="6" x2="265.4" y2="1709.9" stroke="#000" stroke-width="2.9"/>
<line x1="264" y1="1708.3" x2="1968" y2="1708.3" stroke="#000" stroke-width="3.2"/>
<line x1="256.8" y1="35.89" x2="265" y2="35.89" stroke="#333" stroke-width="2.7"/>
<text class="yl" x="249.50" y="46.19">VCP URV</text>
<line x1="256.8" y1="85.66" x2="265" y2="85.66" stroke="#333" stroke-width="2.7"/>
<text class="yl" x="249.50" y="95.95">UNC13C URV</text>
<line x1="256.8" y1="135.43" x2="265" y2="135.43" stroke="#333" stroke-width="2.7"/>
<text class="yl" x="249.50" y="145.73">TTC3 URV</text>
<line x1="256.8" y1="185.20" x2="265" y2="185.20" stroke="#333" stroke-width="2.7"/>
<text class="yl" x="249.50" y="195.50">TBK1 URV</text>
<line x1="256.8" y1="234.97" x2="265" y2="234.97" stroke="#333" stroke-width="2.7"/>
<text class="yl" x="249.50" y="245.27">TARDBP URV</text>
<line x1="256.8" y1="284.74" x2="265" y2="284.74" stroke="#333" stroke-width="2.7"/>
<text class="yl" x="249.50" y="295.04">SOD1 URV</text>
<line x1="256.8" y1="334.50" x2="265" y2="334.50" stroke="#333" stroke-width="2.7"/>
<text class="yl" x="249.50" y="344.81">OPTN URV</text>
<line x1="256.8" y1="384.28" x2="265" y2="384.28" stroke="#333" stroke-width="2.7"/>
<text class="yl" x="249.50" y="394.58">NEK1 URV</text>
<line x1="256.8" y1="434.05" x2="265" y2="434.05" stroke="#333" stroke-width="2.7"/>
<text class="yl" x="249.50" y="444.35">KIF4A URV</text>
<line x1="256.8" y1="483.82" x2="265" y2="483.82" stroke="#333" stroke-width="2.7"/>
<text class="yl" x="249.50" y="494.12">DNAJC7 URV</text>
<line x1="256.8" y1="533.59" x2="265" y2="533.59" stroke="#333" stroke-width="2.7"/>
<text class="yl" x="249.50" y="543.88">C9orf72 RE</text>
<line x1="256.8" y1="583.36" x2="265" y2="583.36" stroke="#333" stroke-width="2.7"/>
<text class="yl" x="249.50" y="593.65">YKT6 (p.Y64C)</text>
<line x1="256.8" y1="633.12" x2="265" y2="633.12" stroke="#333" stroke-width="2.7"/>
<text class="yl" x="249.50" y="643.42">UBQLN2 (p.P509S)</text>
<line x1="256.8" y1="682.90" x2="265" y2="682.90" stroke="#333" stroke-width="2.7"/>
<text class="yl" x="249.50" y="693.20">TBK1 (p.V464A)</text>
<line x1="256.8" y1="732.67" x2="265" y2="732.67" stroke="#333" stroke-width="2.7"/>
<text class="yl" x="249.50" y="742.97">TBK1 (p.K291E)</text>
<line x1="256.8" y1="782.44" x2="265" y2="782.44" stroke="#333" stroke-width="2.7"/>
<text class="yl" x="249.50" y="792.74">TARDBP (p.N352S)</text>
<line x1="256.8" y1="832.21" x2="265" y2="832.21" stroke="#333" stroke-width="2.7"/>
<text class="yl" x="249.50" y="842.50">TARDBP (p.I383V)</text>
<line x1="256.8" y1="881.98" x2="265" y2="881.98" stroke="#333" stroke-width="2.7"/>
<text class="yl" x="249.50" y="892.27">SOD1 (p.I114T)</text>
<line x1="256.8" y1="931.75" x2="265" y2="931.75" stroke="#333" stroke-width="2.7"/>
<text class="yl" x="249.50" y="942.04">SOD1 (p.D91A)</text>
<line x1="256.8" y1="981.52" x2="265" y2="981.52" stroke="#333" stroke-width="2.7"/>
<text class="yl" x="249.50" y="991.82">SOD1 (p.A5V)</text>
<line x1="256.8" y1="1031.29" x2="265" y2="1031.29" stroke="#333" stroke-width="2.7"/>
<text class="yl" x="249.50" y="1041.59">NEK1 (p.S1036*)</text>
<line x1="256.8" y1="1081.06" x2="265" y2="1081.06" stroke="#333" stroke-width="2.7"/>
<text class="yl" x="249.50" y="1091.36">NEK1 (p.R261H)</text>
<line x1="256.8" y1="1130.83" x2="265" y2="1130.83" stroke="#333" stroke-width="2.7"/>
<text class="yl" x="249.50" y="1141.12">NEK1 (c.868+1G&gt;C)</text>
<line x1="256.8" y1="1180.60" x2="265" y2="1180.60" stroke="#333" stroke-width="2.7"/>
<text class="yl" x="249.50" y="1190.89">KNTC1 (p.W287R)</text>
<line x1="256.8" y1="1230.37" x2="265" y2="1230.37" stroke="#333" stroke-width="2.7"/>
<text class="yl" x="249.50" y="1240.66">KIF5A (p.P986L)</text>
<line x1="256.8" y1="1280.13" x2="265" y2="1280.13" stroke="#333" stroke-width="2.7"/>
<text class="yl" x="249.50" y="1290.43">HTR3C (p.T186A)</text>
<line x1="256.8" y1="1329.90" x2="265" y2="1329.90" stroke="#333" stroke-width="2.7"/>
<text class="yl" x="249.50" y="1340.20">GBGT1 (p.R152L)</text>
<line x1="256.8" y1="1379.68" x2="265" y2="1379.68" stroke="#333" stroke-width="2.7"/>
<text class="yl" x="249.50" y="1389.98">FUS (p.R521C)</text>
<line x1="256.8" y1="1429.45" x2="265" y2="1429.45" stroke="#333" stroke-width="2.7"/>
<text class="yl" x="249.50" y="1439.75">FUS (p.P525L)</text>
<line x1="256.8" y1="1479.22" x2="265" y2="1479.22" stroke="#333" stroke-width="2.7"/>
<text class="yl" x="249.50" y="1489.52">CFAP410 (p.V58L)</text>
<line x1="256.8" y1="1528.99" x2="265" y2="1528.99" stroke="#333" stroke-width="2.7"/>
<text class="yl" x="249.50" y="1539.29">CAPN2 (p.I530V)</text>
<line x1="256.8" y1="1578.76" x2="265" y2="1578.76" stroke="#333" stroke-width="2.7"/>
<text class="yl" x="249.50" y="1589.06">ARPP21 (p.P747L)</text>
<line x1="256.8" y1="1628.53" x2="265" y2="1628.53" stroke="#333" stroke-width="2.7"/>
<text class="yl" x="249.50" y="1638.83">ARPP21 (p.P563L)</text>
<line x1="256.8" y1="1678.30" x2="265" y2="1678.30" stroke="#333" stroke-width="2.7"/>
<text class="yl" x="249.50" y="1688.60">ANXA11 (p.G38R)</text>
<line x1="295.29" y1="1709" x2="295.29" y2="1716" stroke="#333" stroke-width="2.7"/>
<text class="xl" transform="translate(309.29 1738.00) rotate(-45)" x="0" y="0">ANXA11 (p.G38R)</text>
<line x1="345.08" y1="1709" x2="345.08" y2="1716" stroke="#333" stroke-width="2.7"/>
<text class="xl" transform="translate(359.08 1738.00) rotate(-45)" x="0" y="0">ARPP21 (p.P563L)</text>
<line x1="394.86" y1="1709" x2="394.86" y2="1716" stroke="#333" stroke-width="2.7"/>
<text class="xl" transform="translate(408.86 1738.00) rotate(-45)" x="0" y="0">ARPP21 (p.P747L)</text>
<line x1="444.65" y1="1709" x2="444.65" y2="1716" stroke="#333" stroke-width="2.7"/>
<text class="xl" transform="translate(458.65 1738.00) rotate(-45)" x="0" y="0">CAPN2 (p.I530V)</text>
<line x1="494.43" y1="1709" x2="494.43" y2="1716" stroke="#333" stroke-width="2.7"/>
<text class="xl" transform="translate(508.43 1738.00) rotate(-45)" x="0" y="0">CFAP410 (p.V58L)</text>
<line x1="544.22" y1="1709" x2="544.22" y2="1716" stroke="#333" stroke-width="2.7"/>
<text class="xl" transform="translate(558.22 1738.00) rotate(-45)" x="0" y="0">FUS (p.P525L)</text>
<line x1="594.00" y1="1709" x2="594.00" y2="1716" stroke="#333" stroke-width="2.7"/>
<text class="xl" transform="translate(608.00 1738.00) rotate(-45)" x="0" y="0">FUS (p.R521C)</text>
<line x1="643.79" y1="1709" x2="643.79" y2="1716" stroke="#333" stroke-width="2.7"/>
<text class="xl" transform="translate(657.79 1738.00) rotate(-45)" x="0" y="0">GBGT1 (p.R152L)</text>
<line x1="693.57" y1="1709" x2="693.57" y2="1716" stroke="#333" stroke-width="2.7"/>
<text class="xl" transform="translate(707.57 1738.00) rotate(-45)" x="0" y="0">HTR3C (p.T186A)</text>
<line x1="743.36" y1="1709" x2="743.36" y2="1716" stroke="#333" stroke-width="2.7"/>
<text class="xl" transform="translate(757.36 1738.00) rotate(-45)" x="0" y="0">KIF5A (p.P986L)</text>
<line x1="793.14" y1="1709" x2="793.14" y2="1716" stroke="#333" stroke-width="2.7"/>
<text class="xl" transform="translate(807.14 1738.00) rotate(-45)" x="0" y="0">KNTC1 (p.W287R)</text>
<line x1="842.93" y1="1709" x2="842.93" y2="1716" stroke="#333" stroke-width="2.7"/>
<text class="xl" transform="translate(856.93 1738.00) rotate(-45)" x="0" y="0">NEK1 (c.868+1G&gt;C)</text>
<line x1="892.71" y1="1709" x2="892.71" y2="1716" stroke="#333" stroke-width="2.7"/>
<text class="xl" transform="translate(906.71 1738.00) rotate(-45)" x="0" y="0">NEK1 (p.R261H)</text>
<line x1="942.50" y1="1709" x2="942.50" y2="1716" stroke="#333" stroke-width="2.7"/>
<text class="xl" transform="translate(956.50 1738.00) rotate(-45)" x="0" y="0">NEK1 (p.S1036*)</text>
<line x1="992.28" y1="1709" x2="992.28" y2="1716" stroke="#333" stroke-width="2.7"/>
<text class="xl" transform="translate(1006.28 1738.00) rotate(-45)" x="0" y="0">SOD1 (p.A5V)</text>
<line x1="1042.07" y1="1709" x2="1042.07" y2="1716" stroke="#333" stroke-width="2.7"/>
<text class="xl" transform="translate(1056.07 1738.00) rotate(-45)" x="0" y="0">SOD1 (p.D91A)</text>
<line x1="1091.85" y1="1709" x2="1091.85" y2="1716" stroke="#333" stroke-width="2.7"/>
<text class="xl" transform="translate(1105.85 1738.00) rotate(-45)" x="0" y="0">SOD1 (p.I114T)</text>
<line x1="1141.64" y1="1709" x2="1141.64" y2="1716" stroke="#333" stroke-width="2.7"/>
<text class="xl" transform="translate(1155.64 1738.00) rotate(-45)" x="0" y="0">TARDBP (p.I383V)</text>
<line x1="1191.42" y1="1709" x2="1191.42" y2="1716" stroke="#333" stroke-width="2.7"/>
<text class="xl" transform="translate(1205.42 1738.00) rotate(-45)" x="0" y="0">TARDBP (p.N352S)</text>
<line x1="1241.21" y1="1709" x2="1241.21" y2="1716" stroke="#333" stroke-width="2.7"/>
<text class="xl" transform="translate(1255.21 1738.00) rotate(-45)" x="0" y="0">TBK1 (p.K291E)</text>
<line x1="1290.99" y1="1709" x2="1290.99" y2="1716" stroke="#333" stroke-width="2.7"/>
<text class="xl" transform="translate(1304.99 1738.00) rotate(-45)" x="0" y="0">TBK1 (p.V464A)</text>
<line x1="1340.78" y1="1709" x2="1340.78" y2="1716" stroke="#333" stroke-width="2.7"/>
<text class="xl" transform="translate(1354.78 1738.00) rotate(-45)" x="0" y="0">UBQLN2 (p.P509S)</text>
<line x1="1390.56" y1="1709" x2="1390.56" y2="1716" stroke="#333" stroke-width="2.7"/>
<text class="xl" transform="translate(1404.56 1738.00) rotate(-45)" x="0" y="0">YKT6 (p.Y64C)</text>
<line x1="1440.35" y1="1709" x2="1440.35" y2="1716" stroke="#333" stroke-width="2.7"/>
<text class="xl" transform="translate(1454.35 1738.00) rotate(-45)" x="0" y="0">C9orf72 RE</text>
<line x1="1490.13" y1="1709" x2="1490.13" y2="1716" stroke="#333" stroke-width="2.7"/>
<text class="xl" transform="translate(1504.13 1738.00) rotate(-45)" x="0" y="0">DNAJC7 URV</text>
<line x1="1539.92" y1="1709" x2="1539.92" y2="1716" stroke="#333" stroke-width="2.7"/>
<text class="xl" transform="translate(1553.92 1738.00) rotate(-45)" x="0" y="0">KIF4A URV</text>
<line x1="1589.70" y1="1709" x2="1589.70" y2="1716" stroke="#333" stroke-width="2.7"/>
<text class="xl" transform="translate(1603.70 1738.00) rotate(-45)" x="0" y="0">NEK1 URV</text>
<line x1="1639.49" y1="1709" x2="1639.49" y2="1716" stroke="#333" stroke-width="2.7"/>
<text class="xl" transform="translate(1653.49 1738.00) rotate(-45)" x="0" y="0">OPTN URV</text>
<line x1="1689.27" y1="1709" x2="1689.27" y2="1716" stroke="#333" stroke-width="2.7"/>
<text class="xl" transform="translate(1703.27 1738.00) rotate(-45)" x="0" y="0">SOD1 URV</text>
<line x1="1739.06" y1="1709" x2="1739.06" y2="1716" stroke="#333" stroke-width="2.7"/>
<text class="xl" transform="translate(1753.06 1738.00) rotate(-45)" x="0" y="0">TARDBP URV</text>
<line x1="1788.84" y1="1709" x2="1788.84" y2="1716" stroke="#333" stroke-width="2.7"/>
<text class="xl" transform="translate(1802.84 1738.00) rotate(-45)" x="0" y="0">TBK1 URV</text>
<line x1="1838.63" y1="1709" x2="1838.63" y2="1716" stroke="#333" stroke-width="2.7"/>
<text class="xl" transform="translate(1852.63 1738.00) rotate(-45)" x="0" y="0">TTC3 URV</text>
<line x1="1888.41" y1="1709" x2="1888.41" y2="1716" stroke="#333" stroke-width="2.7"/>
<text class="xl" transform="translate(1902.41 1738.00) rotate(-45)" x="0" y="0">UNC13C URV</text>
<line x1="1938.20" y1="1709" x2="1938.20" y2="1716" stroke="#333" stroke-width="2.7"/>
<text class="xl" transform="translate(1952.20 1738.00) rotate(-45)" x="0" y="0">VCP URV</text>
<defs><linearGradient id="gg" x1="0" y1="1" x2="0" y2="0"><stop offset="0.0000" stop-color="#F6FECC"/><stop offset="0.0250" stop-color="#F1FDC6"/><stop offset="0.0500" stop-color="#EDFCC1"/><stop offset="0.0750" stop-color="#E8FBBB"/><stop offset="0.1000" stop-color="#E4FAB5"/><stop offset="0.1250" stop-color="#DFF9B0"/><stop offset="0.1500" stop-color="#D9F6AB"/><stop offset="0.1750" stop-color="#D4F4A7"/><stop offset="0.2000" stop-color="#CEF1A2"/><stop offset="0.2250" stop-color="#C9EF9D"/><stop offset="0.2500" stop-color="#C1EC9A"/><stop offset="0.2750" stop-color="#B9EA96"/><stop offset="0.3000" stop-color="#B2E792"/><stop offset="0.3250" stop-color="#AAE58F"/><stop offset="0.3500" stop-color="#A3E28C"/><stop offset="0.3750" stop-color="#9CDE89"/><stop offset="0.4000" stop-color="#96DB86"/><stop offset="0.4250" stop-color="#8FD884"/><stop offset="0.4500" stop-color="#89D581"/><stop offset="0.4750" stop-color="#83D27D"/><stop offset="0.5000" stop-color="#7DCF78"/><stop offset="0.5250" stop-color="#77CB74"/><stop offset="0.5500" stop-color="#70C870"/><stop offset="0.5750" stop-color="#69C26C"/><stop offset="0.6000" stop-color="#62BC68"/><stop offset="0.6250" stop-color="#5AB564"/><stop offset="0.6500" stop-color="#53AF60"/><stop offset="0.6750" stop-color="#4DA95C"/><stop offset="0.7000" stop-color="#48A458"/><stop offset="0.7250" stop-color="#449F55"/><stop offset="0.7500" stop-color="#3F9A51"/><stop offset="0.7750" stop-color="#3B944E"/><stop offset="0.8000" stop-color="#388F4B"/><stop offset="0.8250" stop-color="#358A49"/><stop offset="0.8500" stop-color="#328546"/><stop offset="0.8750" stop-color="#2F8044"/><stop offset="0.9000" stop-color="#2C7A42"/><stop offset="0.9250" stop-color="#2A7340"/><stop offset="0.9500" stop-color="#286D3E"/><stop offset="0.9750" stop-color="#25673C"/><stop offset="1.0000" stop-color="#23603A"/></linearGradient><linearGradient id="rb" x1="0" y1="1" x2="0" y2="0"><stop offset="0.0000" stop-color="#5B8DF8"/><stop offset="0.0125" stop-color="#5F90F8"/><stop offset="0.0250" stop-color="#6492F8"/><stop offset="0.0375" stop-color="#6895F8"/><stop offset="0.0500" stop-color="#6D98F8"/><stop offset="0.0625" stop-color="#719AF8"/><stop offset="0.0750" stop-color="#769DF8"/><stop offset="0.0875" stop-color="#7AA0F8"/><stop offset="0.1000" stop-color="#7EA3F8"/><stop offset="0.1125" stop-color="#83A5F8"/><stop offset="0.1250" stop-color="#87A8F8"/><stop offset="0.1375" stop-color="#8CABF9"/><stop offset="0.1500" stop-color="#90ADF9"/><stop offset="0.1625" stop-color="#95B0F9"/><stop offset="0.1750" stop-color="#99B3F9"/><stop offset="0.1875" stop-color="#9EB5F9"/><stop offset="0.2000" stop-color="#A2B8F9"/><stop offset="0.2125" stop-color="#A6BBF9"/><stop offset="0.2250" stop-color="#ABBDF9"/><stop offset="0.2375" stop-color="#AFC0F9"/><stop offset="0.2500" stop-color="#B4C3F9"/><stop offset="0.2625" stop-color="#B8C5F9"/><stop offset="0.2750" stop-color="#BBC8F9"/><stop offset="0.2875" stop-color="#BECAF9"/><stop offset="0.3000" stop-color="#C1CCFA"/><stop offset="0.3125" stop-color="#C3CFFA"/><stop offset="0.3250" stop-color="#C6D1FA"/><stop offset="0.3375" stop-color="#C9D3FA"/><stop offset="0.3500" stop-color="#CCD5FA"/><stop offset="0.3625" stop-color="#CFD8FB"/><stop offset="0.3750" stop-color="#D1DAFB"/><stop offset="0.3875" stop-color="#D4DCFB"/><stop offset="0.4000" stop-color="#D8DFFB"/><stop offset="0.4125" stop-color="#DBE2FB"/><stop offset="0.4250" stop-color="#DFE5FA"/><stop offset="0.4375" stop-color="#E3E8FA"/><stop offset="0.4500" stop-color="#E7EBFA"/><stop offset="0.4625" stop-color="#ECEFFB"/><stop offset="0.4750" stop-color="#F1F3FC"/><stop offset="0.4875" stop-color="#F8F9FE"/><stop offset="0.5000" stop-color="#FFFFFF"/><stop offset="0.5125" stop-color="#FDF9F9"/><stop offset="0.5250" stop-color="#FCF3F2"/><stop offset="0.5375" stop-color="#FAEDEC"/><stop offset="0.5500" stop-color="#F9E8E6"/><stop offset="0.5625" stop-color="#F8E3E1"/><stop offset="0.5750" stop-color="#F7DFDC"/><stop offset="0.5875" stop-color="#F6DAD7"/><stop offset="0.6000" stop-color="#F5D6D2"/><stop offset="0.6125" stop-color="#F4D1CD"/><stop offset="0.6250" stop-color="#F4CCC7"/><stop offset="0.6375" stop-color="#F3C7C2"/><stop offset="0.6500" stop-color="#F3C3BD"/><stop offset="0.6625" stop-color="#F2BEB8"/><stop offset="0.6750" stop-color="#F2B9B3"/><stop offset="0.6875" stop-color="#F1B4AE"/><stop offset="0.7000" stop-color="#F1AFAA"/><stop offset="0.7125" stop-color="#F0AAA5"/><stop offset="0.7250" stop-color="#F0A6A1"/><stop offset="0.7375" stop-color="#EFA29D"/><stop offset="0.7500" stop-color="#EF9D98"/><stop offset="0.7625" stop-color="#EF9994"/><stop offset="0.7750" stop-color="#EE948F"/><stop offset="0.7875" stop-color="#EE8F8A"/><stop offset="0.8000" stop-color="#EE8884"/><stop offset="0.8125" stop-color="#EE827D"/><stop offset="0.8250" stop-color="#EE7B77"/><stop offset="0.8375" stop-color="#EE7470"/><stop offset="0.8500" stop-color="#EE6E6A"/><stop offset="0.8625" stop-color="#EE6A66"/><stop offset="0.8750" stop-color="#EE6562"/><stop offset="0.8875" stop-color="#ED615E"/><stop offset="0.9000" stop-color="#ED5D5A"/><stop offset="0.9125" stop-color="#ED5856"/><stop offset="0.9250" stop-color="#ED5452"/><stop offset="0.9375" stop-color="#ED4F4E"/><stop offset="0.9500" stop-color="#EC4B4A"/><stop offset="0.9625" stop-color="#EC4746"/><stop offset="0.9750" stop-color="#EC4343"/><stop offset="0.9875" stop-color="#EC4242"/><stop offset="1.0000" stop-color="#EC4041"/></linearGradient></defs>
<rect x="2019.30" y="564.70" width="52.30" height="265.80" fill="url(#gg)"/>
<line x1="2019.30" y1="771.85" x2="2029.80" y2="771.85" stroke="#fff" stroke-width="1.5"/><line x1="2061.10" y1="771.85" x2="2071.60" y2="771.85" stroke="#fff" stroke-width="1.5"/>
<line x1="2019.30" y1="713.20" x2="2029.80" y2="713.20" stroke="#fff" stroke-width="1.5"/><line x1="2061.10" y1="713.20" x2="2071.60" y2="713.20" stroke="#fff" stroke-width="1.5"/>
<line x1="2019.30" y1="654.55" x2="2029.80" y2="654.55" stroke="#fff" stroke-width="1.5"/><line x1="2061.10" y1="654.55" x2="2071.60" y2="654.55" stroke="#fff" stroke-width="1.5"/>
<line x1="2019.30" y1="595.90" x2="2029.80" y2="595.90" stroke="#fff" stroke-width="1.5"/><line x1="2061.10" y1="595.90" x2="2071.60" y2="595.90" stroke="#fff" stroke-width="1.5"/>
<text class="lg" x="2088.3" y="840.50">0.0</text>
<text class="lg" x="2088.3" y="781.85">0.5</text>
<text class="lg" x="2088.3" y="723.20">1.0</text>
<text class="lg" x="2088.3" y="664.55">1.5</text>
<text class="lg" x="2088.3" y="605.90">2.0</text>
<text x="2018.2" y="536.3" style="font-size:34px;fill:#000"><tspan dy="2.6">−</tspan><tspan dx="3.2" dy="-2.6">log</tspan><tspan dx="1.20" dy="6.2" style="font-size:24.5px">10</tspan><tspan dx="-1.00" dy="-6.2" style="font-size:40.5px">(</tspan><tspan dx="0.00" style="font-style:italic">P</tspan><tspan dx="5.00" style="font-size:40.5px">)</tspan></text>
<rect x="2019.30" y="946.70" width="52.30" height="265.80" fill="url(#rb)"/>
<line x1="2019.30" y1="1204.51" x2="2029.80" y2="1204.51" stroke="#fff" stroke-width="1.5"/><line x1="2061.10" y1="1204.51" x2="2071.60" y2="1204.51" stroke="#fff" stroke-width="1.5"/>
<line x1="2019.30" y1="1142.05" x2="2029.80" y2="1142.05" stroke="#fff" stroke-width="1.5"/><line x1="2061.10" y1="1142.05" x2="2071.60" y2="1142.05" stroke="#fff" stroke-width="1.5"/>
<line x1="2019.30" y1="1017.15" x2="2029.80" y2="1017.15" stroke="#fff" stroke-width="1.5"/><line x1="2061.10" y1="1017.15" x2="2071.60" y2="1017.15" stroke="#fff" stroke-width="1.5"/>
<line x1="2019.30" y1="954.69" x2="2029.80" y2="954.69" stroke="#fff" stroke-width="1.5"/><line x1="2061.10" y1="954.69" x2="2071.60" y2="954.69" stroke="#fff" stroke-width="1.5"/>
<text class="lg" x="2088.3" y="964.69">5.0</text>
<text class="lg" x="2088.3" y="1027.15">2.5</text>
<text class="lg" x="2088.3" y="1089.60">0.0</text>
<text class="lg" x="2088.3" y="1152.05">-2.5</text>
<text class="lg" x="2088.3" y="1214.51">-5.0</text>
<text x="2018.6" y="926.5" style="font-size:34px;fill:#000">log(OR)</text>
</svg>
</body></html>
